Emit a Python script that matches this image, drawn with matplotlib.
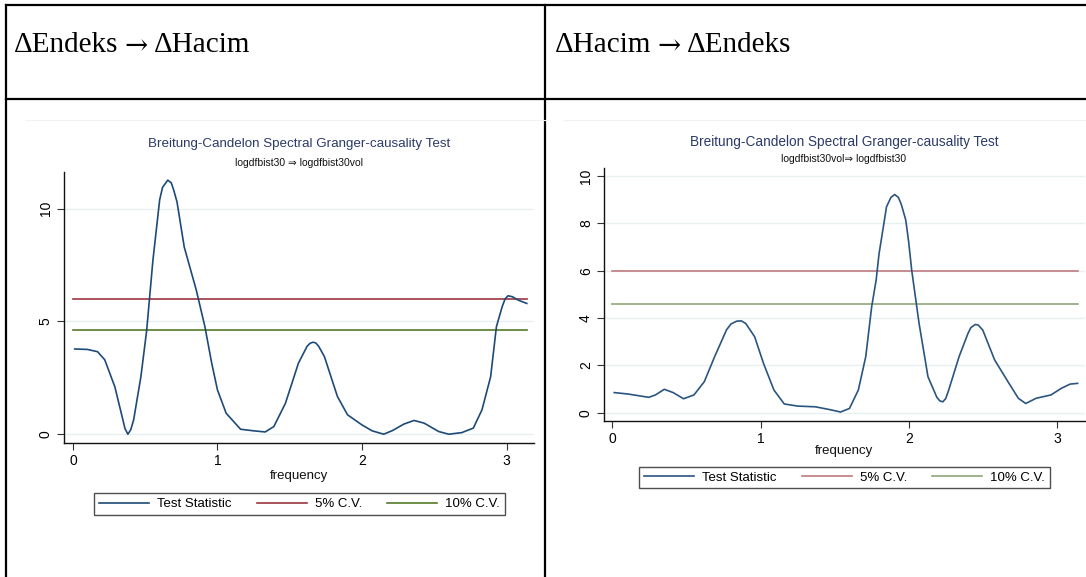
import matplotlib
matplotlib.use("Agg")
import matplotlib.pyplot as plt
from matplotlib.lines import Line2D
import numpy as np

W, H = 1086, 577

# ---------------- data ----------------
header_parts = [["\u0394Endeks", "\u2192", "\u0394Hacim"],
                ["\u0394Hacim", "\u2192", "\u0394Endeks"]]
title = "Breitung-Candelon Spectral Granger-causality Test"
subtitles = ["logdfbist30 \u21d2 logdfbist30vol", "logdfbist30vol\u21d2 logdfbist30"]
legend_labels = ["Test Statistic", "5% C.V.", "10% C.V."]
xlabel = "frequency"

freq_left = [0.012, 0.10, 0.17, 0.22, 0.29, 0.34, 0.36, 0.38, 0.40, 0.42, 0.47, 0.51, 0.553,
             0.60, 0.62, 0.656, 0.68, 0.697, 0.72, 0.74, 0.77, 0.853, 0.913, 0.96, 1.00,
             1.06, 1.16, 1.25, 1.33, 1.39, 1.47, 1.56, 1.62, 1.64, 1.66, 1.68, 1.70, 1.74,
             1.83, 1.90, 2.00, 2.07, 2.15, 2.21, 2.29, 2.36, 2.43, 2.53, 2.60, 2.69, 2.77,
             2.83, 2.89, 2.93, 2.97, 2.99, 3.01, 3.04, 3.08, 3.14]
stat_left = [3.78, 3.76, 3.66, 3.30, 2.10, 0.78, 0.25, 0.00, 0.20, 0.64, 2.55, 4.60, 7.70,
             10.40, 10.95, 11.27, 11.15, 10.83, 10.30, 9.50, 8.30, 6.40, 4.77, 3.15, 1.96,
             0.93, 0.22, 0.15, 0.10, 0.34, 1.37, 3.15, 3.90, 4.03, 4.08, 4.05, 3.90, 3.44,
             1.67, 0.86, 0.41, 0.15, 0.00, 0.16, 0.45, 0.61, 0.49, 0.12, 0.00, 0.07, 0.27,
             1.08, 2.55, 4.77, 5.66, 6.00, 6.14, 6.10, 5.95, 5.80]
cv5_left = 6.0
cv10_left = 4.6

freq_right = [0.012, 0.105, 0.245, 0.29, 0.35, 0.41, 0.48, 0.55, 0.62, 0.69, 0.77, 0.80,
              0.84, 0.87, 0.90, 0.96, 1.02, 1.09, 1.16, 1.25, 1.37, 1.46, 1.54, 1.60, 1.66,
              1.71, 1.75, 1.78, 1.80, 1.83, 1.85, 1.88, 1.905, 1.93, 1.95, 1.98, 2.00, 2.02,
              2.045, 2.07, 2.13, 2.19, 2.21, 2.23, 2.25, 2.27, 2.34, 2.40, 2.42, 2.45, 2.47,
              2.50, 2.58, 2.67, 2.74, 2.79, 2.86, 2.96, 3.03, 3.09, 3.14]
stat_right = [0.85, 0.79, 0.65, 0.75, 0.99, 0.85, 0.59, 0.75, 1.31, 2.37, 3.50, 3.75,
              3.87, 3.88, 3.77, 3.21, 2.08, 0.96, 0.37, 0.28, 0.25, 0.14, 0.03, 0.18, 0.96,
              2.37, 4.48, 5.60, 6.73, 7.90, 8.70, 9.10, 9.22, 9.10, 8.80, 8.14, 7.20, 6.03,
              4.90, 3.77, 1.52, 0.65, 0.50, 0.46, 0.60, 0.96, 2.37, 3.35, 3.60, 3.73, 3.70,
              3.49, 2.23, 1.31, 0.61, 0.39, 0.61, 0.75, 1.03, 1.21, 1.24]
cv5_right = 6.0
cv10_right = 4.6

xticks = [0, 1, 2, 3]
yticks_left = [0, 5, 10]
yticks_right = [0, 2, 4, 6, 8, 10]

# ---------------- helpers ----------------
def rect(x0, y0, x1, y1):
    return [x0 / W, 1 - y1 / H, (x1 - x0) / W, (y1 - y0) / H]

def fx(x):
    return x / W

def fy(y):
    return 1 - y / H

fig = plt.figure(figsize=(W / 100, H / 100), dpi=100)
fig.patch.set_facecolor("white")

sans = ["Liberation Sans", "DejaVu Sans"]
serif = ["Liberation Serif", "DejaVu Serif"]

# table lines
lw_tab = 1.6
for (xa, ya, xb, yb) in [(6, 5, 1086, 5), (6, 99, 1086, 99), (6, 5, 6, 577), (545, 5, 545, 577)]:
    fig.add_artist(Line2D([fx(xa), fx(xb)], [fy(ya), fy(yb)], color="black", lw=lw_tab,
                          solid_capstyle="projecting"))

# faint graph borders
for (xa, xb) in [(26, 548), (564, 1086)]:
    fig.add_artist(Line2D([fx(xa), fx(xb)], [fy(119.5), fy(119.5)], color="#eef2f4", lw=0.8))

# headers, drawn piece by piece so the arrow can use a fuller glyph
renderer = fig.canvas.get_renderer()
gap = 6
for parts, x_start in zip(header_parts, [14, 555]):
    x = x_start
    for i, part in enumerate(parts):
        fam = ["DejaVu Serif"] if i == 1 else serif
        size = 20 if i == 1 else 21
        yy = 47 if i == 1 else 45
        t = fig.text(fx(x), fy(yy), part, family=fam, fontsize=size, va="center", ha="left")
        bb = t.get_window_extent(renderer)
        x += bb.width + gap

panels = [
    dict(rect=rect(64, 172, 534, 443), xlim=(-0.062, 3.19), ylim=(-0.39, 11.63),
         freq=freq_left, stat=stat_left, cv5=cv5_left, cv10=cv10_left, yticks=yticks_left,
         cx=299, title_y=144, sub_y=163, xlab_y=476, leg=(96, 491, 503, 517),
         c_stat="#1d4a78", c5="#9c3540", c10="#557a25", sub=subtitles[0], ts=9.6),
    dict(rect=rect(604, 168, 1085, 421), xlim=(-0.057, 3.19), ylim=(-0.35, 10.34),
         freq=freq_right, stat=stat_right, cv5=cv5_right, cv10=cv10_right, yticks=yticks_right,
         cx=844, title_y=142, sub_y=159, xlab_y=451, leg=(636, 465, 1053, 490),
         c_stat="#2a5580", c5="#c07a80", c10="#8fa878", sub=subtitles[1], ts=9.8),
]

for p in panels:
    ax = fig.add_axes(p["rect"])
    ax.set_xlim(*p["xlim"])
    ax.set_ylim(*p["ylim"])
    for t in p["yticks"]:
        ax.axhline(t, color="#e8f0f2", lw=1.0, zorder=0)
    h1, = ax.plot(p["freq"], p["stat"], color=p["c_stat"], lw=1.2, zorder=3,
                  solid_joinstyle="round")
    h2, = ax.plot([0, np.pi], [p["cv5"], p["cv5"]], color=p["c5"], lw=1.2, zorder=2)
    h3, = ax.plot([0, np.pi], [p["cv10"], p["cv10"]], color=p["c10"], lw=1.2, zorder=2)
    ax.spines["top"].set_visible(False)
    ax.spines["right"].set_visible(False)
    for s in ("left", "bottom"):
        ax.spines[s].set_linewidth(1.0)
        ax.spines[s].set_color("#111111")
    ax.set_xticks(xticks)
    ax.set_yticks(p["yticks"])
    ax.set_xticklabels([str(v) for v in xticks], family=sans, fontsize=10)
    ax.set_yticklabels([str(v) for v in p["yticks"]], family=sans, fontsize=10,
                       rotation=90, va="center")
    ax.tick_params(direction="out", length=5, width=0.8, color="#333333", pad=3)
    ax.set_facecolor("white")

    fig.text(fx(p["cx"]), fy(p["title_y"]), title, family=sans, fontsize=p["ts"],
             color="#2b3a67", ha="center", va="center")
    fig.text(fx(p["cx"]), fy(p["sub_y"]), p["sub"], family=sans, fontsize=7.5,
             color="#111111", ha="center", va="center")
    fig.text(fx(p["cx"]), fy(p["xlab_y"]), xlabel, family=sans, fontsize=9.5,
             color="#111111", ha="center", va="center")

    lx0, ly0, lx1, ly1 = p["leg"]
    leg = fig.legend([h1, h2, h3], legend_labels, loc="center",
                     bbox_to_anchor=(fx((lx0 + lx1) / 2), fy((ly0 + ly1) / 2)),
                     ncol=3, frameon=True, fancybox=False, edgecolor="#222222",
                     prop={"family": sans, "size": 9.5}, handlelength=3.8,
                     handletextpad=0.6, columnspacing=1.9, borderpad=0.35,
                     borderaxespad=0)
    leg.get_frame().set_linewidth(1.0)

fig.savefig("out.png", dpi=100, facecolor="white")
